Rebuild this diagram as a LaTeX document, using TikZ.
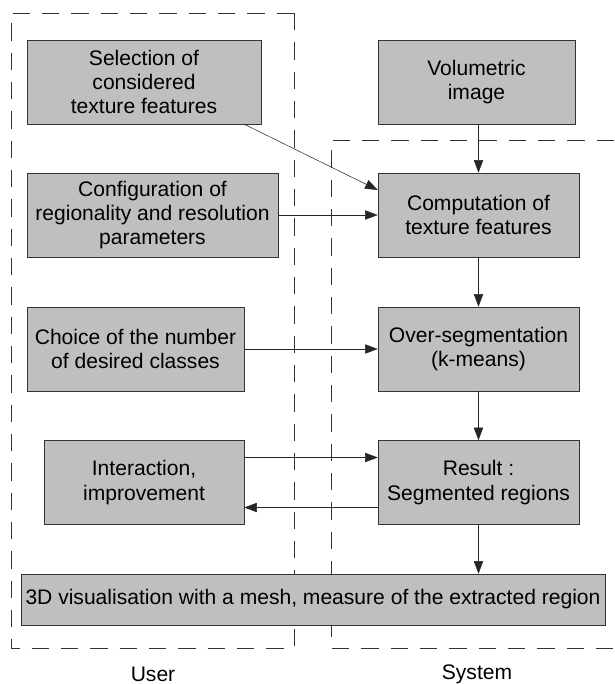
\documentclass[tikz,border=0pt]{standalone}
\usepackage{fontspec}
\setmainfont{Liberation Sans}
\usetikzlibrary{arrows.meta}
\begin{document}
\begin{tikzpicture}[x=0.75pt,y=-0.75pt,
    box/.style={draw=black!80,fill=black!25,align=center,inner sep=0pt,
      minimum height=63pt,font=\fontsize{15.8}{18.3}\selectfont},
    link/.style={-{Triangle[length=9.5pt,width=7pt]},black!85},
    zone/.style={black!80,dash pattern=on 13pt off 9pt}]
    \useasboundingbox (0,0) rectangle (614,684);
    \draw [zone] (294,13) -- (11,13) -- (11,648) -- (294,648) -- cycle;
    \draw [zone] (614,140) -- (331,140) -- (331,648) -- (614,648);
    \node [box,minimum width=175.5pt] (sel) at (144,82) {Selection of\\considered\\texture features};
    \node [box,minimum width=188.25pt] (conf) at (152.5,215) {Configuration of\\regionality and resolution\\parameters};
    \node [box,minimum width=162.75pt] (choice) at (135.5,349) {Choice of the number\\of desired classes};
    \node [box,minimum width=150pt] (inter) at (144,482.5) {Interaction,\\improvement};
    \node [box,minimum width=147.75pt] (vol) at (476.5,82) {Volumetric\\image};
    \node [box,minimum width=150.75pt] (comp) at (478.5,215) {Computation of\\texture features};
    \node [box,minimum width=150.75pt] (over) at (478.5,349) {Over-segmentation\\(k-means)};
    \node [box,minimum width=150.75pt] (res) at (478.5,482.5) {Result :\\Segmented regions};
    \node [box,minimum width=438pt,minimum height=38.25pt] (vis) at (313,599.5) {3D visualisation with a mesh, measure of the extracted region};
    \node [font=\fontsize{15.8}{18.3}\selectfont] (user) at (153,674) {User};
    \node [font=\fontsize{15.8}{18.3}\selectfont] (sys) at (477,674) {System};
    \draw [link] ([xshift=-12.75pt]sel.south east) -- ([yshift=18.75pt]comp.west);
    \draw [link] (conf) -- (comp);
    \draw [link] (choice) -- (over);
    \draw [link] (vol.south -| comp) -- (comp);
    \draw [link] (comp) -- (over);
    \draw [link] (over) -- (res);
    \draw [link] (res) -- (res |- vis.north);
    \draw [link] ([yshift=18.75pt]inter.east) -- ([yshift=18.75pt]res.west);
    \draw [link] ([yshift=-18.75pt]res.west) -- ([yshift=-18.75pt]inter.east);
\end{tikzpicture}
\end{document}
